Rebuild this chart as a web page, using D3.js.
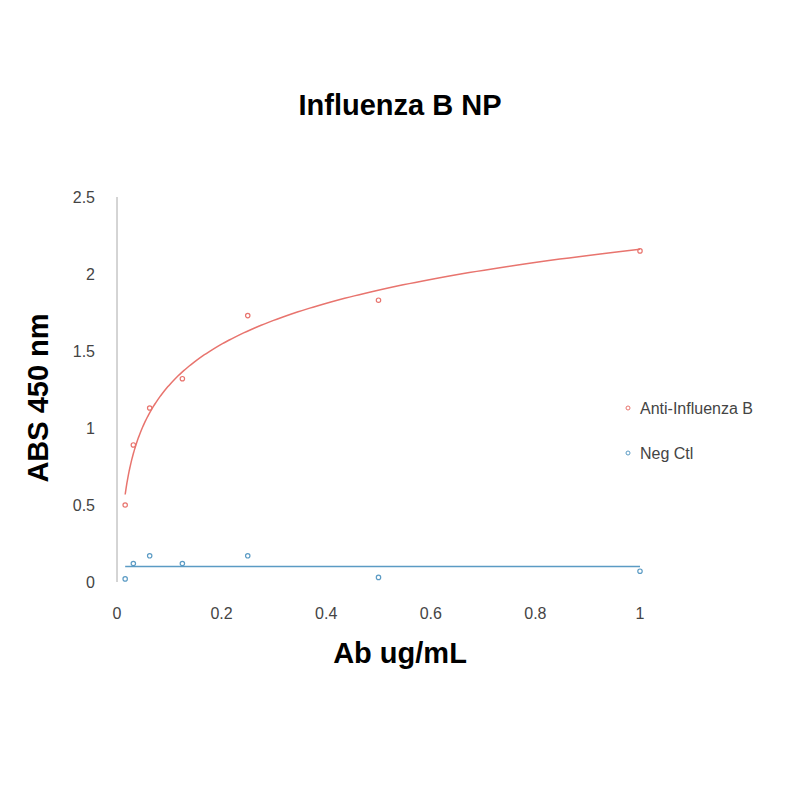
<!DOCTYPE html>
<html><head><meta charset="utf-8">
<script src="https://cdn.jsdelivr.net/npm/d3@7"></script>
<style>body{margin:0;background:#fff}</style></head>
<body><svg id="c" width="800" height="800"></svg>
<script>
const conc=[0.015625,0.03125,0.0625,0.125,0.25,0.5,1];
const antiB=[0.50,0.89,1.13,1.32,1.73,1.83,2.15];
const negCtl=[0.02,0.12,0.17,0.12,0.17,0.03,0.07];
const xTicks=[0,0.2,0.4,0.6,0.8,1];
const yTicks=[0,0.5,1,1.5,2,2.5];
const red="#e8746e", blue="#5b9bc4";
const svg=d3.select("#c");
const x=d3.scaleLinear().domain([0,1]).range([117,640]);
const y=d3.scaleLinear().domain([0,2.5]).range([582,197]);
const f="Liberation Sans, Arial, sans-serif";
svg.append("text").attr("x",400).attr("y",115).attr("text-anchor","middle").attr("font-family",f).attr("font-weight","bold").attr("font-size",29).text("Influenza B NP");
svg.append("line").attr("x1",x(0)).attr("x2",x(0)).attr("y1",y(2.5)).attr("y2",y(0)).attr("stroke","#aaa");
svg.selectAll(".xt").data(xTicks).enter().append("text").attr("x",d=>x(d)).attr("y",619).attr("text-anchor","middle").attr("font-family",f).attr("font-size",16).attr("fill","#444").text(d=>d);
svg.selectAll(".yt").data(yTicks).enter().append("text").attr("x",95).attr("y",d=>y(d)+6).attr("text-anchor","end").attr("font-family",f).attr("font-size",16).attr("fill","#444").text(d=>d);
svg.append("text").attr("x",400).attr("y",663).attr("text-anchor","middle").attr("font-family",f).attr("font-weight","bold").attr("font-size",29).text("Ab ug/mL");
svg.append("text").attr("transform","translate(48,398) rotate(-90)").attr("text-anchor","middle").attr("font-family",f).attr("font-weight","bold").attr("font-size",29).text("ABS 450 nm");
const lx=conc.map(Math.log);
const mx=d3.mean(lx), my=d3.mean(antiB);
const b=d3.sum(lx.map((v,i)=>(v-mx)*(antiB[i]-my)))/d3.sum(lx.map(v=>(v-mx)**2));
const a=my-b*mx;
const xs=d3.range(0,201).map(i=>conc[0]*Math.pow(1/conc[0],i/200));
svg.append("path").attr("d",d3.line().x(d=>x(d)).y(d=>y(a+b*Math.log(d)))(xs)).attr("fill","none").attr("stroke",red).attr("stroke-width",1.5);
const nm=d3.mean(negCtl);
svg.append("line").attr("x1",x(conc[0])).attr("x2",x(1)).attr("y1",y(nm)).attr("y2",y(nm)).attr("stroke",blue).attr("stroke-width",1.5);
function pts(data,c){svg.selectAll(null).data(data).enter().append("circle").attr("cx",(d,i)=>x(conc[i])).attr("cy",d=>y(d)).attr("r",2.2).attr("fill","none").attr("stroke",c).attr("stroke-width",1.2);}
pts(antiB,red);pts(negCtl,blue);
[["Anti-Influenza B",red,408],["Neg Ctl",blue,453]].forEach(([t,c,yy])=>{
svg.append("circle").attr("cx",628).attr("cy",yy).attr("r",2).attr("fill","none").attr("stroke",c);
svg.append("text").attr("x",640).attr("y",yy+6).attr("font-family",f).attr("font-size",16).attr("fill","#444").text(t);});
</script></body></html>
